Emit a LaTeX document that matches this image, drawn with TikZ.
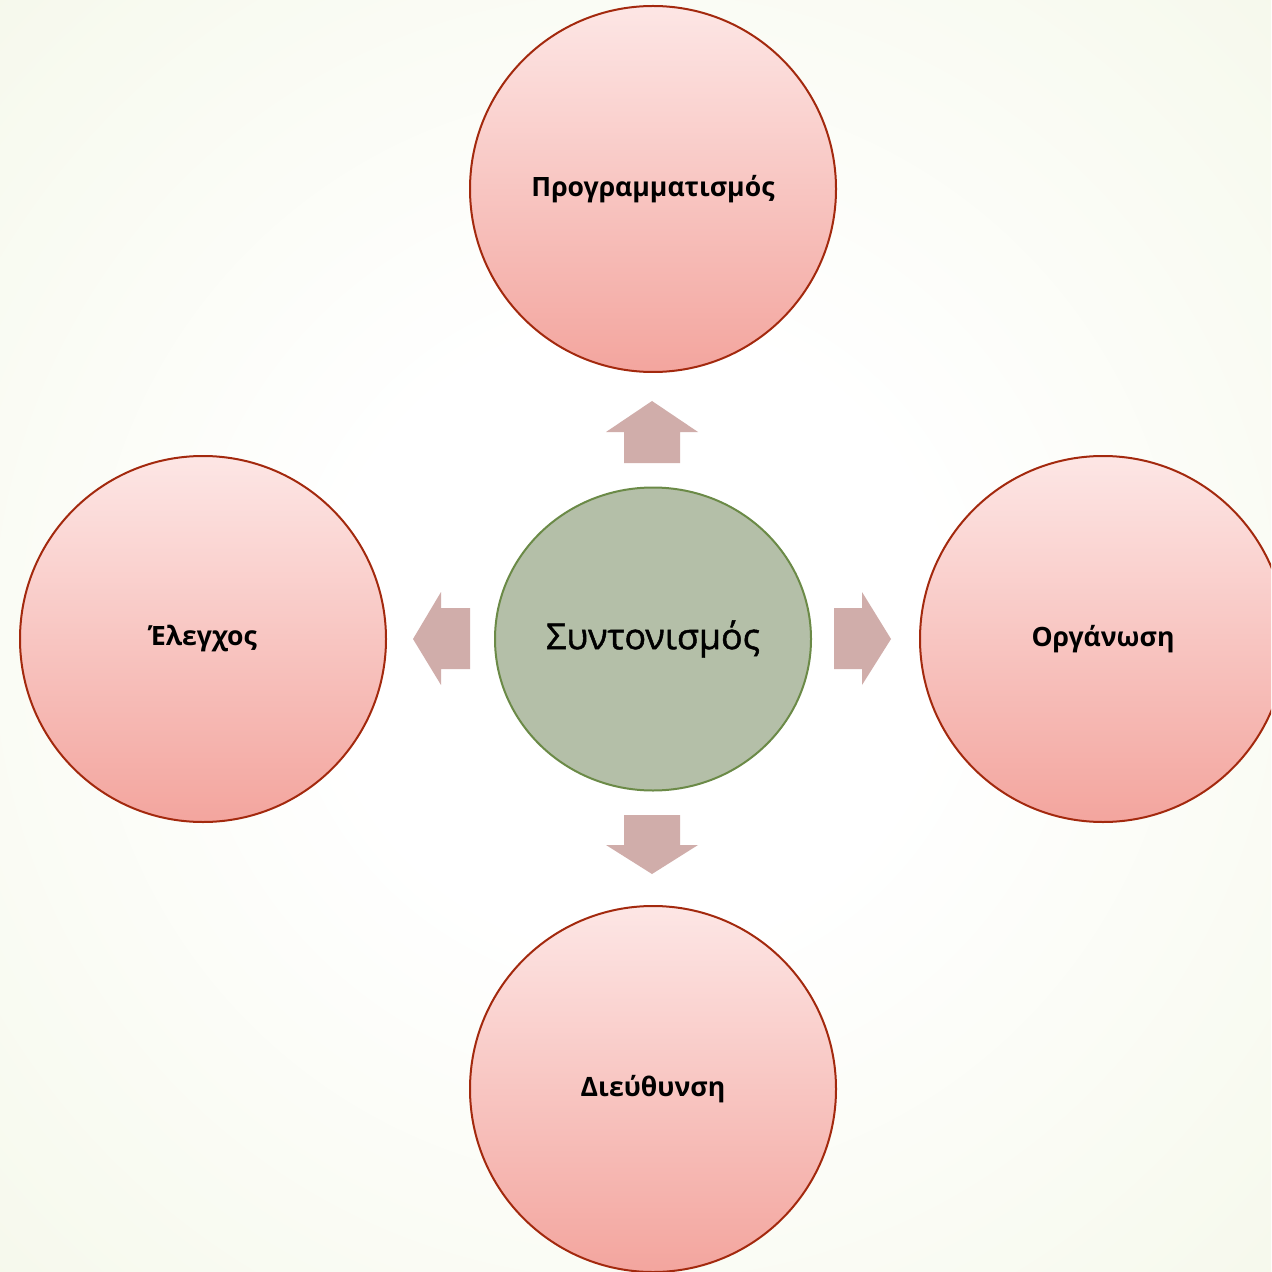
\documentclass[tikz,border=0pt]{standalone}
\usepackage{fontspec}
\setmainfont{Open Sans}
\newfontfamily\semifont[FakeBold=1.3]{Open Sans}
\usetikzlibrary{shapes.geometric}
\definecolor{bgmid}{HTML}{F8FAF0}
\definecolor{bgedge}{HTML}{EFF4E0}
\definecolor{bgout}{HTML}{E8EFD3}
\definecolor{circtop}{HTML}{FDE6E5}
\definecolor{circbot}{HTML}{F3A59E}
\definecolor{circline}{HTML}{A3290E}
\definecolor{midfill}{HTML}{B4BFA8}
\definecolor{midline}{HTML}{6B8A47}
\definecolor{arrowcol}{HTML}{D0ADAA}
\pgfdeclareradialshading{bgshade}{\pgfpoint{0bp}{0bp}}{%
  color(0bp)=(white); color(12bp)=(white); color(31bp)=(bgmid);
  color(50bp)=(bgedge); color(71bp)=(bgout); color(100bp)=(bgout)}
\tikzset{
  phase/.style={circle, draw=circline, line width=1pt, top color=circtop, bottom color=circbot,
    minimum size=183pt, inner sep=0pt, font=\fontsize{13.3}{16}\selectfont\bfseries, text=black},
  hub/.style={ellipse, draw=midline, line width=1pt, fill=midfill,
    minimum width=158pt, minimum height=151.5pt, inner sep=0pt, font=\fontsize{17.9}{20}\selectfont\semifont, text=black},
  blockarrow/.style={fill=arrowcol, draw=none}
}
\begin{document}
\begin{tikzpicture}[x=0.5pt,y=-0.5pt]
\useasboundingbox (0,0) rectangle (1271,1272);
\clip (0,0) rectangle (1271,1272);
\shade[shading=bgshade] (0,0) rectangle (1271,1272);
\node[phase] (plan) at (653,189) {Προγραμματισμός};
\node[phase] (ctrl) at (203,639) {Έλεγχος};
\node[phase] (org) at (1103,639) {Οργάνωση};
\node[phase] (dir) at (653,1089) {Διεύθυνση};
\node[hub] (coord) at (653,639) {Συντονισμός};
% up arrow
\fill[blockarrow] (624,463) -- (624,432) -- (606,432) -- (652,401) -- (698,432) -- (680,432) -- (680,463) -- cycle;
% down arrow
\fill[blockarrow] (624,815) -- (624,845) -- (606,845) -- (652,874) -- (698,845) -- (680,845) -- (680,815) -- cycle;
% left arrow
\fill[blockarrow] (470,608) -- (441,608) -- (441,592) -- (413,639) -- (441,685) -- (441,669) -- (470,669) -- cycle;
% right arrow
\fill[blockarrow] (834,608) -- (862,608) -- (862,592) -- (891,639) -- (862,685) -- (862,669) -- (834,669) -- cycle;
\end{tikzpicture}
\end{document}
